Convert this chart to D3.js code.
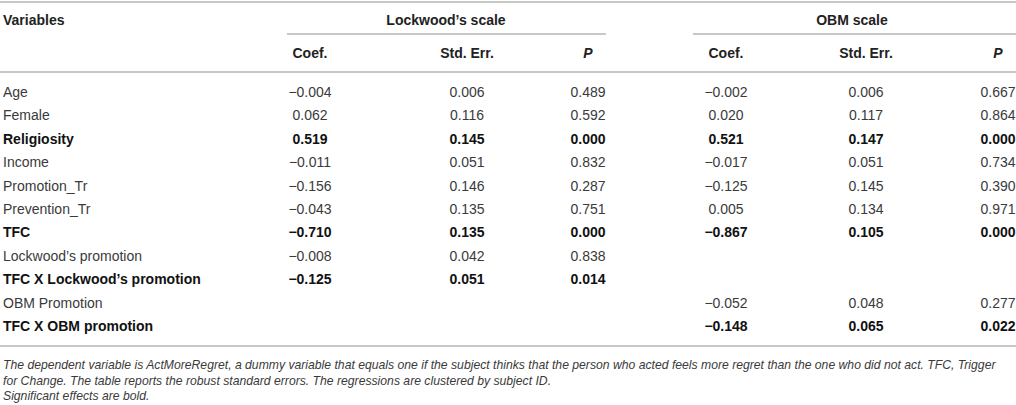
<!DOCTYPE html>
<html>
<head>
<meta charset="utf-8">
<script src="https://cdn.jsdelivr.net/npm/d3@7"></script>
<style>
  body { margin: 0; background: #fff; }
  svg text { font-family: "Liberation Sans", Arial, sans-serif; }
</style>
</head>
<body>
<svg id="table"></svg>
<script>
// table contents
const variables = ["Age", "Female", "Religiosity", "Income", "Promotion_Tr", "Prevention_Tr",
  "TFC", "Lockwood\u2019s promotion", "TFC X Lockwood\u2019s promotion", "OBM Promotion", "TFC X OBM promotion"];
const boldRows = ["Religiosity", "TFC", "TFC X Lockwood\u2019s promotion", "TFC X OBM promotion"];

const groups = ["Lockwood\u2019s scale", "OBM scale"];
const subHeaders = ["Coef.", "Std. Err.", "P", "Coef.", "Std. Err.", "P"];

// null = empty cell
const lockCoef = ["\u22120.004", "0.062", "0.519", "\u22120.011", "\u22120.156", "\u22120.043", "\u22120.710", "\u22120.008", "\u22120.125", null, null];
const lockSE   = ["0.006", "0.116", "0.145", "0.051", "0.146", "0.135", "0.135", "0.042", "0.051", null, null];
const lockP    = ["0.489", "0.592", "0.000", "0.832", "0.287", "0.751", "0.000", "0.838", "0.014", null, null];
const obmCoef  = ["\u22120.002", "0.020", "0.521", "\u22120.017", "\u22120.125", "0.005", "\u22120.867", null, null, "\u22120.052", "\u22120.148"];
const obmSE    = ["0.006", "0.117", "0.147", "0.051", "0.145", "0.134", "0.105", null, null, "0.048", "0.065"];
const obmP     = ["0.667", "0.864", "0.000", "0.734", "0.390", "0.971", "0.000", null, null, "0.277", "0.022"];

const footnotes = [
  "The dependent variable is ActMoreRegret, a dummy variable that equals one if the subject thinks that the person who acted feels more regret than the one who did not act. TFC, Trigger",
  "for Change. The table reports the robust standard errors. The regressions are clustered by subject ID.",
  "Significant effects are bold."
];

const width = 1016, height = 405;
const svg = d3.select("svg#table").attr("width", width).attr("height", height);

const columns = [lockCoef, lockSE, lockP, obmCoef, obmSE, obmP];
const colX = d3.scaleOrdinal().domain(d3.range(6)).range([310, 467, 588, 726, 866, 998]);
const rowY = d3.scaleLinear().domain([0, variables.length - 1]).range([92, 326]);

const ruleColor = "#c8c8c8";
const textColor = "#3a3a3a";

// horizontal rules
const rules = [
  {x1: 0, x2: width, y: 2},
  {x1: 287, x2: 606, y: 34},
  {x1: 693, x2: width, y: 34},
  {x1: 0, x2: width, y: 72},
  {x1: 0, x2: width, y: 346}
];
svg.selectAll("line.rule").data(rules).join("line")
  .attr("class", "rule")
  .attr("x1", d => d.x1).attr("x2", d => d.x2)
  .attr("y1", d => d.y).attr("y2", d => d.y)
  .attr("stroke", ruleColor).attr("stroke-width", 2);

// header rows
svg.append("text")
  .attr("x", 3).attr("y", 20).attr("dy", "0.35em")
  .attr("font-size", 14).attr("font-weight", "bold").attr("fill", "#222")
  .text("Variables");

svg.selectAll("text.group").data(groups).join("text")
  .attr("class", "group")
  .attr("x", (d, i) => i === 0 ? 446 : 852)
  .attr("y", 20).attr("dy", "0.35em")
  .attr("text-anchor", "middle")
  .attr("font-size", 14).attr("font-weight", "bold").attr("fill", "#222")
  .text(d => d);

svg.selectAll("text.sub").data(subHeaders).join("text")
  .attr("class", "sub")
  .attr("x", (d, i) => colX(i))
  .attr("y", 53).attr("dy", "0.35em")
  .attr("text-anchor", "middle")
  .attr("font-size", 14).attr("font-weight", "bold").attr("fill", "#222")
  .attr("font-style", d => d === "P" ? "italic" : null)
  .text(d => d);

// row labels
svg.selectAll("text.var").data(variables).join("text")
  .attr("class", "var")
  .attr("x", 3)
  .attr("y", (d, i) => rowY(i)).attr("dy", "0.35em")
  .attr("font-size", 14)
  .attr("font-weight", d => boldRows.includes(d) ? "bold" : null)
  .attr("fill", d => boldRows.includes(d) ? "#111" : textColor)
  .text(d => d);

// cells
columns.forEach((col, ci) => {
  svg.selectAll(`text.c${ci}`)
    .data(col.map((v, ri) => ({v, ri})).filter(d => d.v !== null))
    .join("text")
    .attr("class", `c${ci}`)
    .attr("x", colX(ci))
    .attr("y", d => rowY(d.ri)).attr("dy", "0.35em")
    .attr("text-anchor", "middle")
    .attr("font-size", 14)
    .attr("font-weight", d => boldRows.includes(variables[d.ri]) ? "bold" : null)
    .attr("fill", d => boldRows.includes(variables[d.ri]) ? "#111" : textColor)
    .text(d => d.v);
});

// footnote
svg.selectAll("text.note").data(footnotes).join("text")
  .attr("class", "note")
  .attr("x", 3)
  .attr("y", (d, i) => 365 + i * 15.5).attr("dy", "0.35em")
  .attr("font-size", 12.2).attr("font-style", "italic").attr("fill", textColor)
  .text(d => d);
</script>
</body>
</html>
